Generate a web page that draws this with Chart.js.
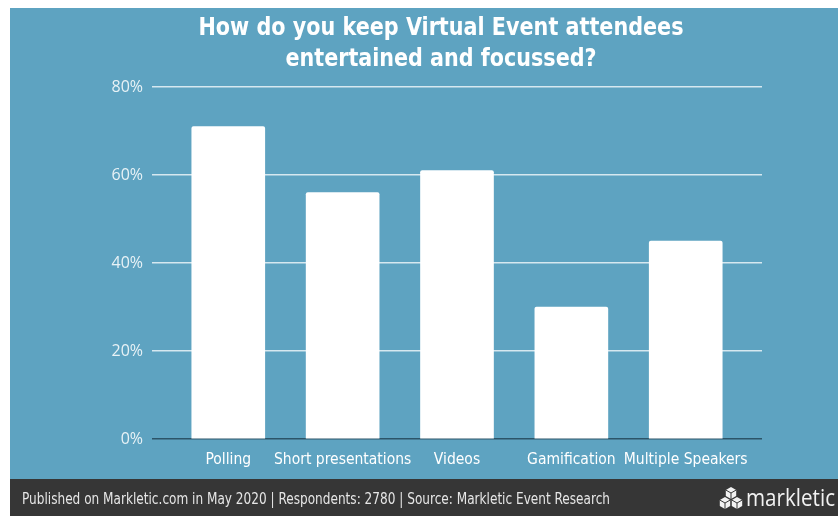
<!DOCTYPE html>
<html>
<head>
<meta charset="utf-8">
<script src="https://cdn.jsdelivr.net/npm/chart.js@4/dist/chart.umd.min.js"></script>
<style>
  html, body { margin: 0; padding: 0; background: #ffffff; }
  #wrap { width: 838px; height: 516px; position: relative; }
</style>
</head>
<body>
<div id="wrap"><canvas id="chart" width="838" height="516"></canvas></div>
<script>
// Survey answers and their share of respondents (%)
const categories = ['Polling', 'Short presentations', 'Videos', 'Gamification', 'Multiple Speakers'];
const shares = [71, 56, 61, 30, 45];
const yTicks = [0, 20, 40, 60, 80];
const titleLines = ['How do you keep Virtual Event attendees', 'entertained and focussed?'];
const footerText = 'Published on Markletic.com in May 2020 | Respondents: 2780 | Source: Markletic Event Research';
const brandText = 'markletic';

const BLUE = '#5ea3c1';
const DARK = '#363636';

// Draws text squeezed/stretched to a target width
function fitText(ctx, text, x, y, width, align) {
  const w = ctx.measureText(text).width;
  const s = width / w;
  ctx.save();
  ctx.translate(x, y);
  ctx.scale(s, 1);
  ctx.textAlign = align;
  ctx.fillText(text, 0, 0);
  ctx.restore();
}

const frame = {
  id: 'frame',
  beforeDraw(chart) {
    const ctx = chart.ctx;
    ctx.save();
    ctx.fillStyle = '#ffffff';
    ctx.fillRect(0, 0, 838, 516);
    ctx.fillStyle = BLUE;
    ctx.fillRect(10, 8, 828, 471);
    ctx.fillStyle = DARK;
    ctx.fillRect(10, 479, 828, 37);

    // title
    ctx.fillStyle = '#ffffff';
    ctx.textBaseline = 'middle';
    ctx.font = 'bold 24px "Liberation Sans Narrow", "DejaVu Sans Condensed", sans-serif';
    fitText(ctx, titleLines[0], 441, 29, 485, 'center');
    fitText(ctx, titleLines[1], 441, 60, 311, 'center');

    // footer
    ctx.fillStyle = '#e6e6e6';
    ctx.font = '15px "Liberation Sans Narrow", "DejaVu Sans Condensed", sans-serif';
    fitText(ctx, footerText, 22, 500, 588, 'left');

    // brand
    ctx.fillStyle = '#f2f2f2';
    ctx.font = '23px "Open Sans", sans-serif';
    fitText(ctx, brandText, 746, 499, 89, 'left');

    // cube logo
    const cube = (cx, cy, r) => {
      ctx.beginPath();
      for (let k = 0; k < 6; k++) {
        const a = Math.PI / 6 + k * Math.PI / 3;
        const px = cx + r * Math.cos(a), py = cy + r * Math.sin(a);
        if (k === 0) ctx.moveTo(px, py); else ctx.lineTo(px, py);
      }
      ctx.closePath();
      ctx.fillStyle = '#f2f2f2';
      ctx.fill();
      ctx.strokeStyle = DARK;
      ctx.lineWidth = 1;
      ctx.beginPath();
      ctx.moveTo(cx - r * 0.87, cy - r * 0.5);
      ctx.lineTo(cx, cy);
      ctx.lineTo(cx + r * 0.87, cy - r * 0.5);
      ctx.moveTo(cx, cy);
      ctx.lineTo(cx, cy + r);
      ctx.stroke();
    };
    cube(731, 493, 6);
    cube(725, 503, 6);
    cube(737, 503, 6);
    ctx.restore();
  }
};

const barData = shares.map((v, i) => ({ x: i, y: v }));

new Chart(document.getElementById('chart'), {
  type: 'bar',
  data: {
    datasets: [{
      data: barData,
      backgroundColor: '#ffffff',
      borderWidth: 0,
      borderRadius: 2,
      barThickness: 73
    }]
  },
  options: {
    responsive: false,
    animation: false,
    devicePixelRatio: 1,
    layout: { padding: { left: 10, right: 76, top: 87, bottom: 37 } },
    plugins: {
      legend: { display: false },
      title: { display: false },
      tooltip: { enabled: false }
    },
    scales: {
      x: {
        type: 'linear',
        offset: false,
        min: -0.667,
        max: 4.667,
        grid: { display: false, drawTicks: false, offset: false },
        border: { display: false },
        afterBuildTicks(scale) { scale.ticks = categories.map((_, i) => ({ value: i })); },
        afterFit(scale) { scale.height = 40; },
        ticks: {
          autoSkip: false,
          maxRotation: 0,
          padding: 12,
          color: '#ffffff',
          font: { family: '"DejaVu Sans Condensed", sans-serif', size: 15.5 },
          callback: (v) => categories[v]
        }
      },
      y: {
        min: 0,
        max: 80,
        afterBuildTicks(scale) { scale.ticks = yTicks.map(v => ({ value: v })); },
        afterFit(scale) { scale.width = 142; },
        border: { display: false },
        grid: {
          drawTicks: false,
          lineWidth: 1.5,
          color: (c) => c.tick && c.tick.value === 0 ? '#2c5468' : 'rgba(235,244,248,0.85)'
        },
        ticks: {
          padding: 9,
          color: '#e8f2f6',
          font: { family: '"Open Sans", sans-serif', size: 16 },
          callback: (v) => v + '%'
        }
      }
    }
  },
  plugins: [frame]
});
</script>
</body>
</html>
